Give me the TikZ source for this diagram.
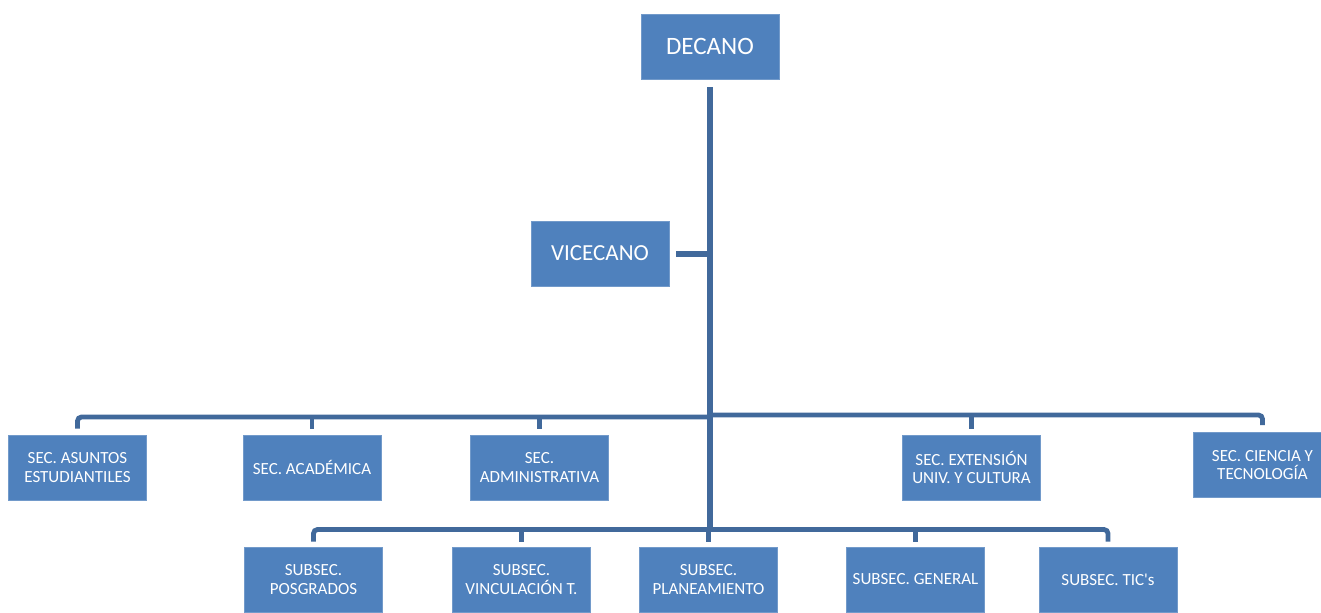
\documentclass[tikz,border=0pt]{standalone}
\usepackage{fontspec}
\setmainfont{Carlito}
\definecolor{boxblue}{HTML}{4F81BD}
\definecolor{lineblue}{HTML}{41699B}
\begin{document}
\begin{tikzpicture}[x=.5pt,y=-.5pt,
    unit/.style={fill=boxblue,draw=boxblue!80!white,line width=.4pt,text=white,
        minimum width=69pt,minimum height=32.5pt,inner sep=0pt,align=center,
        font=\fontsize{8.5}{9.2}\selectfont},
    head/.style={unit,font=\fontsize{12.5}{14}\selectfont},
    link/.style={draw=lineblue,line width=2.4pt,rounded corners=2pt}]
    \useasboundingbox (0,0) rectangle (1321,612);
    % Dean and vice-dean
    \node[head] (decano) at (710,46.5) {DECANO};
    \node[head,font=\fontsize{11.5}{13}\selectfont] (vicecano) at (600,253.5) {VICECANO};
    % Secretaries
    \node[unit] (asuntos) at (77.5,467.5) {SEC. ASUNTOS\\ESTUDIANTILES};
    \node[unit] (academica) at (312,467.5) {SEC. ACADÉMICA};
    \node[unit] (administrativa) at (539.5,467.5) {SEC.\\ADMINISTRATIVA};
    \node[unit] (extension) at (971.5,467.5) {SEC. EXTENSIÓN\\UNIV. Y CULTURA};
    \node[unit] (ciencia) at (1262.5,465) {SEC. CIENCIA Y\\TECNOLOGÍA};
    % Sub-secretaries
    \node[unit] (posgrados) at (313.5,579.5) {SUBSEC.\\POSGRADOS};
    \node[unit] (vinculacion) at (521.5,579.5) {SUBSEC.\\VINCULACIÓN T.};
    \node[unit] (planeamiento) at (708.5,579.5) {SUBSEC.\\PLANEAMIENTO};
    \node[unit] (general) at (915.5,579.5) {SUBSEC. GENERAL};
    \node[unit] (tics) at (1108,579.5) {SUBSEC. TIC\textquotesingle s};
    % Junctions on the trunk
    \coordinate (secL) at (710,417);
    \coordinate (secR) at (710,415);
    \coordinate (subjoin) at (710,529.5);
    % Trunk
    \draw[link,line width=3pt] ([yshift=-4pt]decano.south) -- (subjoin);
    \draw[link,line width=3pt] ([xshift=3.5pt]vicecano.east) -- (vicecano.east -| decano.south);
    % Secretary bar
    \draw[link] ([yshift=3pt]asuntos.north) |- (secL);
    \draw[link] (secR) -| ([yshift=3.5pt]ciencia.north);
    \foreach \n in {academica,administrativa}
        \draw[link] (\n.north |- secL) -- ([yshift=3pt]\n.north);
    \draw[link] (extension.north |- secR) -- ([yshift=3pt]extension.north);
    % Sub-secretary bar
    \draw[link] ([yshift=2.5pt]posgrados.north) |- (subjoin) -| ([yshift=2.5pt]tics.north);
    \foreach \n in {vinculacion,planeamiento,general}
        \draw[link] (\n.north |- subjoin) -- ([yshift=2.5pt]\n.north);
\end{tikzpicture}
\end{document}
